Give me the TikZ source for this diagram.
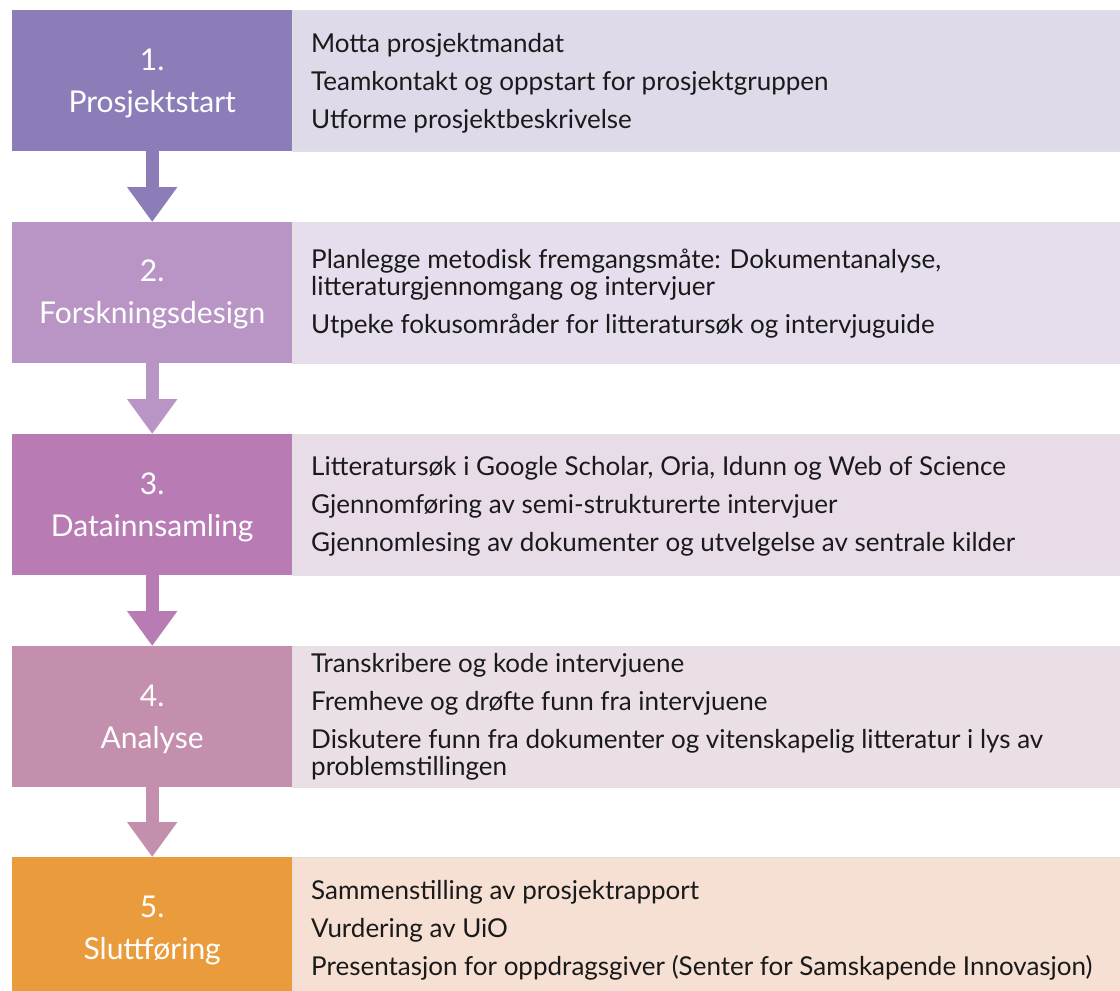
\documentclass[tikz,border=0pt]{standalone}
\usepackage{fontspec}
\setmainfont{Lato}
\usetikzlibrary{arrows.meta}
\definecolor{cAL}{HTML}{8C7DB8}\definecolor{cAR}{HTML}{DFDAE9}
\definecolor{cBL}{HTML}{B895C5}\definecolor{cBR}{HTML}{E6DEEC}
\definecolor{cCL}{HTML}{B87BB4}\definecolor{cCR}{HTML}{E8DCE9}
\definecolor{cDL}{HTML}{C48FAC}\definecolor{cDR}{HTML}{EADEE7}
\definecolor{cEL}{HTML}{EA9C3C}\definecolor{cER}{HTML}{F6E0D3}
\definecolor{txt}{HTML}{1A1A1A}
\tikzset{
  phase/.style={rectangle, anchor=north west, minimum width=280pt, minimum height=141pt, inner sep=0pt},
  phasetext/.style={inner sep=0pt, text=white, align=center, font=\fontsize{30}{42}\selectfont},
  detail/.style={rectangle, anchor=north west, minimum width=828pt, minimum height=141pt, inner sep=0pt, draw=black!12, line width=0.8pt},
  items/.style={anchor=west, inner sep=0pt, text=txt, align=left, font=\fontsize{26}{27}\selectfont},
  flow/.style={line width=13pt, -{Triangle[width=48pt,length=35pt]}, shorten >=0pt}
}
\begin{document}
\begin{tikzpicture}[x=1pt,y=-1pt]
\clip (0,0) rectangle (1120,991);
\fill[white] (0,0) rectangle (1120,991);
% right panels
\node[detail, fill=cAR] (r1) at (292,10) {};
\node[detail, fill=cBR] (r2) at (292,222) {};
\node[detail, fill=cCR] (r3) at (292,434) {};
\node[detail, fill=cDR] (r4) at (292,646) {};
\node[detail, fill=cER] (r5) at (292,857) {};
% left panels
\node[phase, fill=cAL] (l1) at (12,10) {};
\node[phase, fill=cBL] (l2) at (12,222) {};
\node[phase, fill=cCL] (l3) at (12,434) {};
\node[phase, fill=cDL] (l4) at (12,646) {};
\node[phase, fill=cEL] (l5) at (12,857) {};
\node[phasetext] (n1) at ([yshift=-3pt]l1.center) {1.\\Prosjektstart};
\node[phasetext] (n2) at ([yshift=-2pt]l2.center) {2.\\Forskningsdesign};
\node[phasetext] (n3) at ([yshift=-3pt]l3.center) {3.\\Datainnsamling};
\node[phasetext] (n4) at ([yshift=-3pt]l4.center) {4.\\Analyse};
\node[phasetext] (n5) at ([yshift=-3pt]l5.center) {5.\\Sluttføring};
% item texts
\node[items] (t1) at (311,83) {Motta prosjektmandat\\[11pt]Teamkontakt og oppstart for prosjektgruppen\\[11pt]Utforme prosjektbeskrivelse};
\node[items] (t2) at (311,294) {Planlegge metodisk fremgangsmåte: Dokumentanalyse,\\litteraturgjennomgang og intervjuer\\[11pt]Utpeke fokusområder for litteratursøk og intervjuguide};
\node[items] (t3) at (311,506) {Litteratursøk i Google Scholar, Oria, Idunn og Web of Science\\[11pt]Gjennomføring av semi-strukturerte intervjuer\\[11pt]Gjennomlesing av dokumenter og utvelgelse av sentrale kilder};
\node[items] (t4) at (311,717) {Transkribere og kode intervjuene\\[11pt]Fremheve og drøfte funn fra intervjuene\\[11pt]Diskutere funn fra dokumenter og vitenskapelig litteratur i lys av\\problemstillingen};
\node[items] (t5) at (311,930) {Sammenstilling av prosjektrapport\\[11pt]Vurdering av UiO\\[11pt]Presentasjon for oppdragsgiver (Senter for Samskapende Innovasjon)};
% arrows
\draw[flow, cAL] (l1.south) -- (l2.north);
\draw[flow, cBL] (l2.south) -- (l3.north);
\draw[flow, cCL] (l3.south) -- (l4.north);
\draw[flow, cDL] (l4.south) -- (l5.north);
\end{tikzpicture}
\end{document}
